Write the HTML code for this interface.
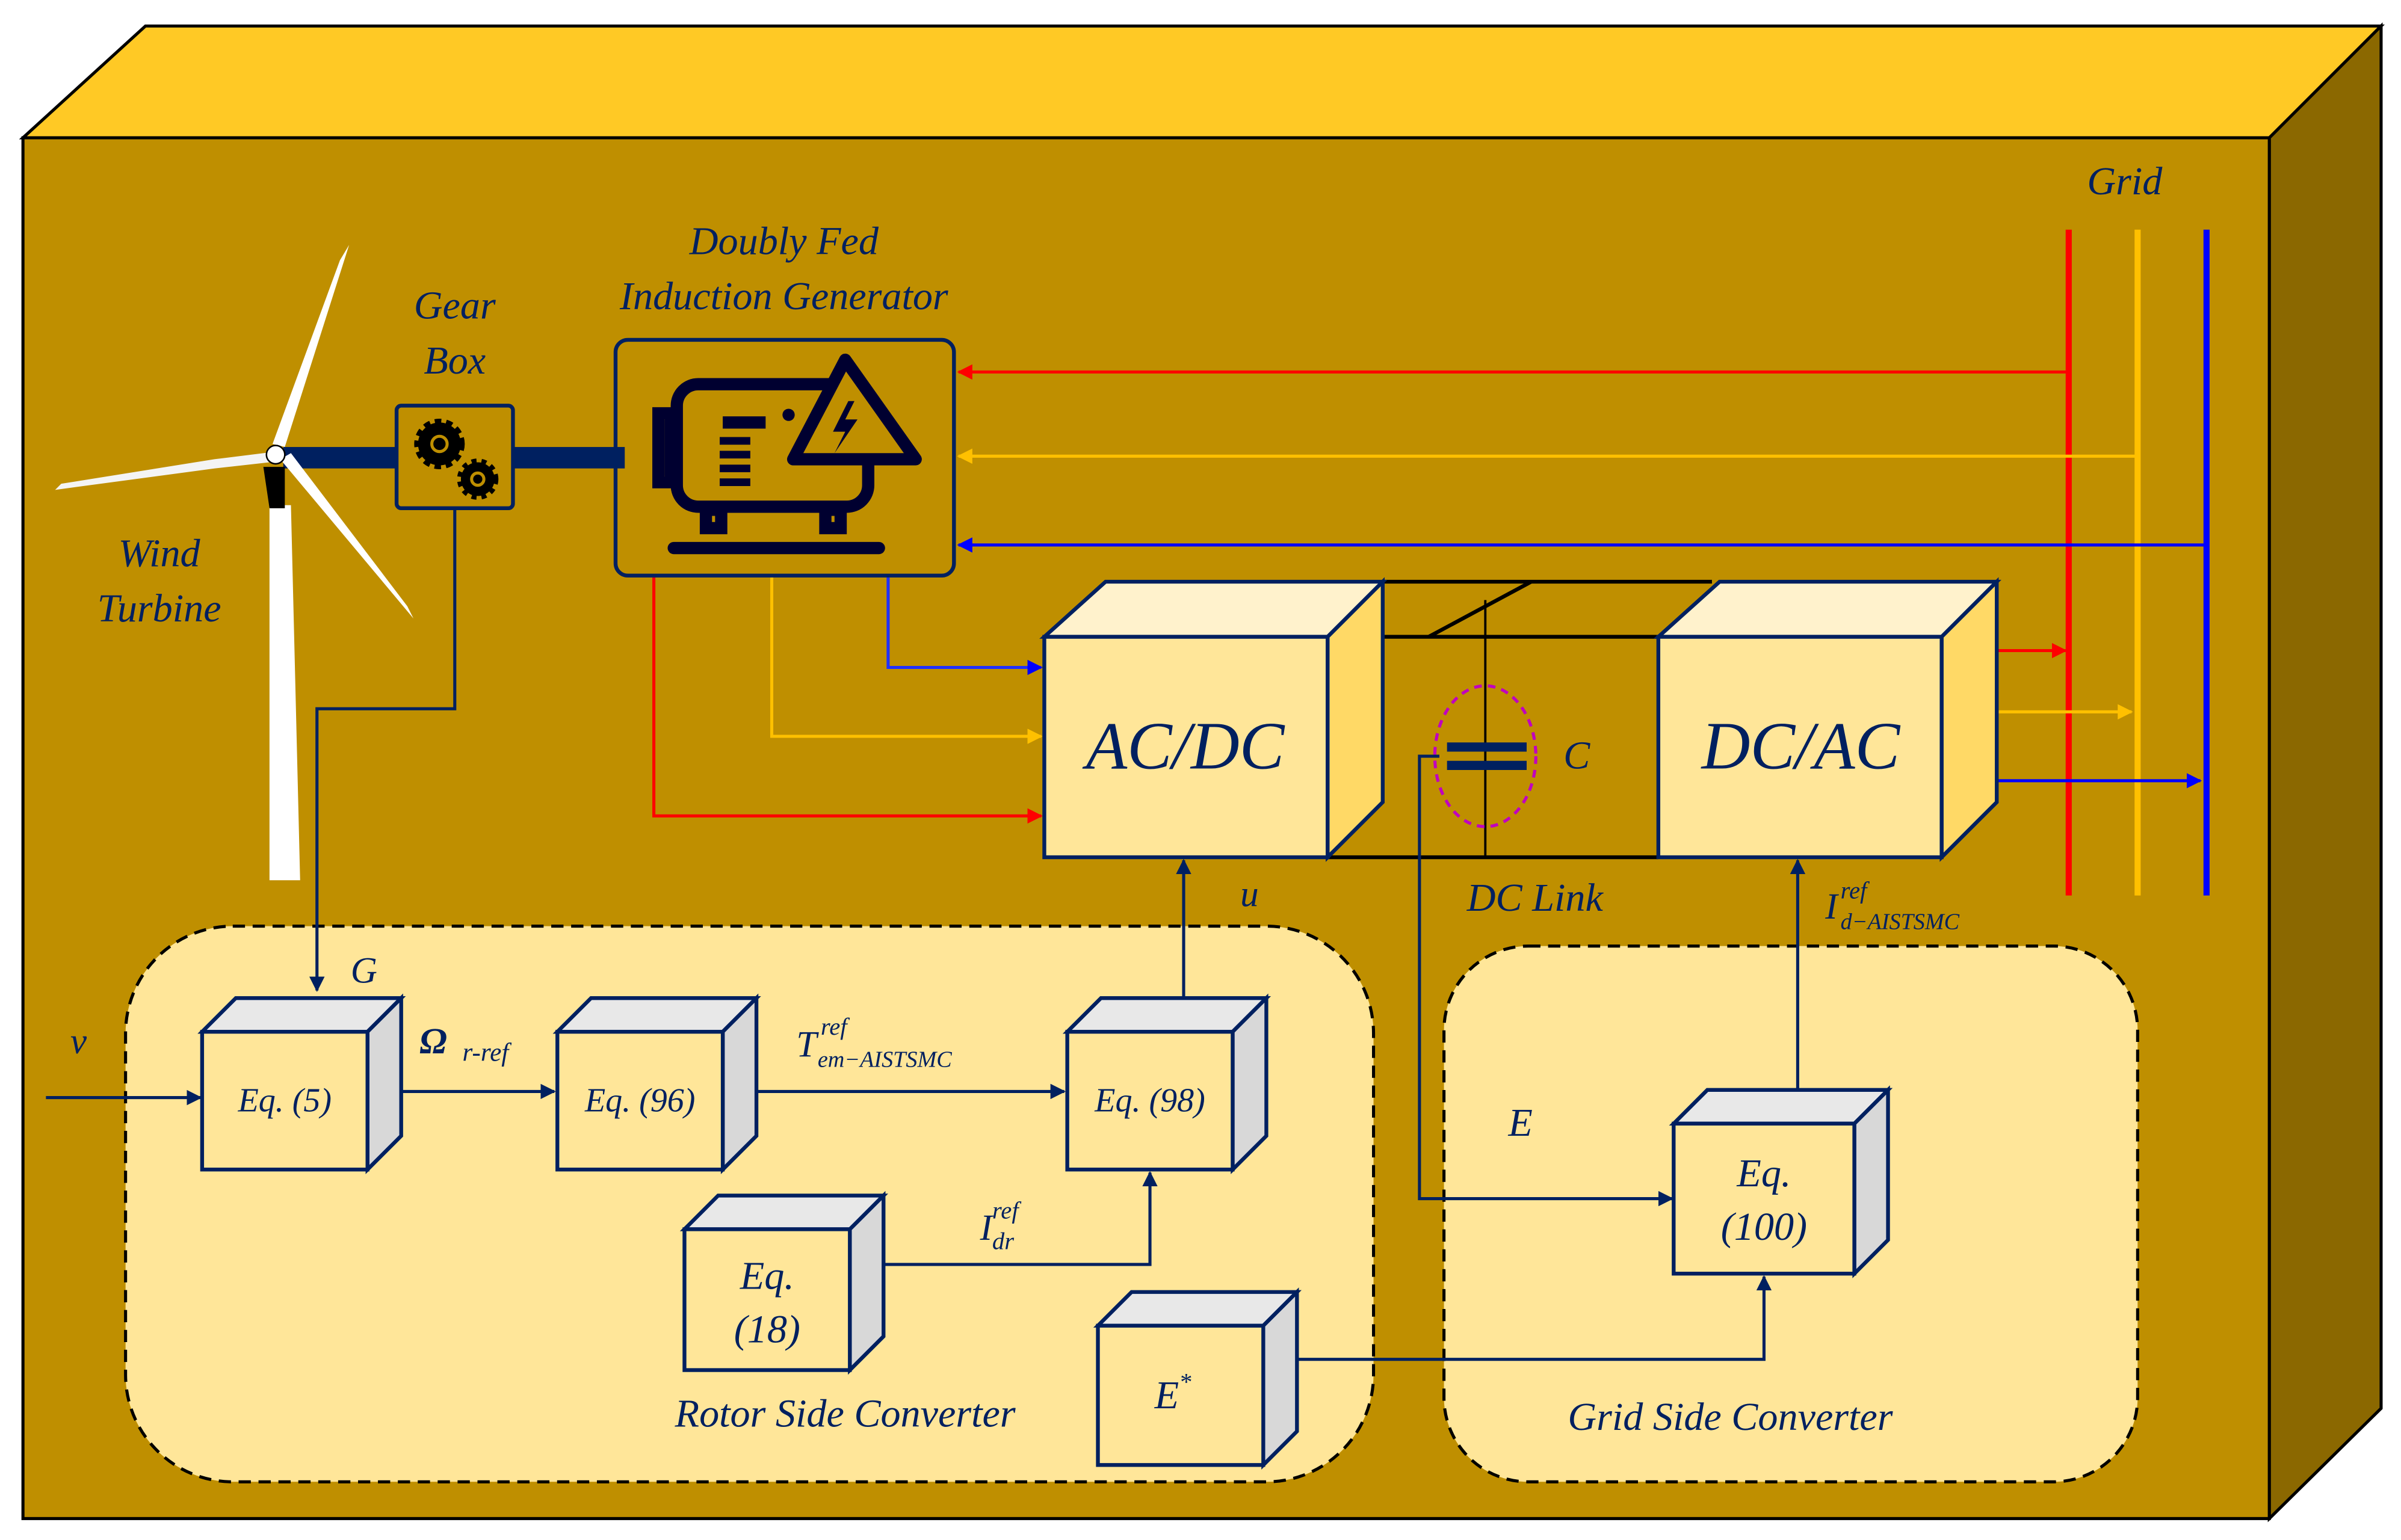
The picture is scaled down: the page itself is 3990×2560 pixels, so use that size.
<!DOCTYPE html>
<html><head><meta charset="utf-8"><style>html,body{margin:0;padding:0;background:#fff}svg{display:block}</style></head><body>
<svg width="3990" height="2560" viewBox="0 0 1568 1006" preserveAspectRatio="none" xmlns="http://www.w3.org/2000/svg" font-family="Liberation Serif, serif" font-style="italic" fill="#002060">
<defs>
<marker id="an" viewBox="0 0 10 10" refX="9" refY="5" markerWidth="5" markerHeight="5" orient="auto"><path d="M0,0L10,5L0,10z" fill="#002060"/></marker>
<marker id="ar" viewBox="0 0 10 10" refX="9" refY="5" markerWidth="5" markerHeight="5" orient="auto"><path d="M0,0L10,5L0,10z" fill="#f00"/></marker>
<marker id="ao" viewBox="0 0 10 10" refX="9" refY="5" markerWidth="5" markerHeight="5" orient="auto"><path d="M0,0L10,5L0,10z" fill="#FFC000"/></marker>
<marker id="ab" viewBox="0 0 10 10" refX="9" refY="5" markerWidth="5" markerHeight="5" orient="auto"><path d="M0,0L10,5L0,10z" fill="#0000ff"/></marker>
</defs>
<rect width="1568" height="1006" fill="#fff"/>
<polygon points="15,90 95,17 1555,17 1482,90" fill="#FFC925" stroke="#000" stroke-width="2"/>
<polygon points="1482,90 1555,17 1555,920 1482,992" fill="#8B6800" stroke="#000" stroke-width="2"/>
<rect x="15" y="90" width="1467" height="902" fill="#BF8F00" stroke="#000" stroke-width="2"/>

<!-- panels -->
<rect x="82" y="605" width="815" height="363" rx="70" fill="#FFE699" stroke="#000" stroke-width="2" stroke-dasharray="8,5"/>
<rect x="943" y="618" width="453" height="350" rx="55" fill="#FFE699" stroke="#000" stroke-width="2" stroke-dasharray="8,5"/>

<!-- grid -->
<g stroke-width="4" fill="none">
<line x1="1351" y1="150" x2="1351" y2="585" stroke="#f00"/>
<line x1="1396" y1="150" x2="1396" y2="585" stroke="#FFC000"/>
<line x1="1441" y1="150" x2="1441" y2="585" stroke="#0000ff"/>
</g>
<text x="1363" y="127" font-size="26">Grid</text>
<g stroke-width="2" fill="none">
<line x1="1351" y1="243" x2="626" y2="243" stroke="#f00" marker-end="url(#ar)"/>
<line x1="1396" y1="298" x2="626" y2="298" stroke="#FFC000" marker-end="url(#ao)"/>
<line x1="1441" y1="356" x2="626" y2="356" stroke="#0000ff" marker-end="url(#ab)"/>
<polyline points="427,376 427,533 680,533" stroke="#f00" marker-end="url(#ar)"/>
<polyline points="504,376 504,481 680,481" stroke="#FFC000" marker-end="url(#ao)"/>
<polyline points="580,376 580,436 680,436" stroke="#2030ff" marker-end="url(#ab)"/>
<line x1="1305" y1="425" x2="1349" y2="425" stroke="#f00" marker-end="url(#ar)"/>
<line x1="1305" y1="465" x2="1392" y2="465" stroke="#FFC000" marker-end="url(#ao)"/>
<line x1="1305" y1="510" x2="1437" y2="510" stroke="#0000ff" marker-end="url(#ab)"/>
</g>

<!-- DC link -->
<g stroke="#000" stroke-width="2.5" fill="none">
<line x1="903" y1="380" x2="1118" y2="380"/>
<line x1="867" y1="416" x2="1083" y2="416"/>
<line x1="867" y1="560" x2="1083" y2="560"/>
<line x1="1000" y1="380" x2="933" y2="416"/>
<line x1="970" y1="392" x2="970" y2="560" stroke-width="1.5"/>
</g>
<rect x="945" y="485" width="52" height="6" fill="#002060"/>
<rect x="945" y="497" width="52" height="6" fill="#002060"/>
<ellipse cx="970" cy="494" rx="33" ry="46" fill="none" stroke="#c000c0" stroke-width="2" stroke-dasharray="5,4"/>
<text x="1021" y="502" font-size="26">C</text>
<text x="958" y="595" font-size="26">DC Link</text>

<!-- converter boxes -->
<g stroke="#002060" stroke-width="2.5">
<polygon points="682,416 722,380 903,380 867,416" fill="#FFF2CC"/>
<polygon points="867,416 903,380 903,524 867,560" fill="#FFD966"/>
<rect x="682" y="416" width="185" height="144" fill="#FFE699"/>
<polygon points="1083,416 1123,380 1304,380 1268,416" fill="#FFF2CC"/>
<polygon points="1268,416 1304,380 1304,524 1268,560" fill="#FFD966"/>
<rect x="1083" y="416" width="185" height="144" fill="#FFE699"/>
</g>
<text x="774" y="502" font-size="44" text-anchor="middle">AC/DC</text>
<text x="1176" y="502" font-size="44" text-anchor="middle">DC/AC</text>

<!-- DFIG -->
<rect x="402" y="222" width="221" height="154" rx="8" fill="none" stroke="#002060" stroke-width="2.5"/>
<g fill="none" stroke="#000030" stroke-width="8">
<rect x="442" y="251" width="125" height="80" rx="14"/>
<line x1="472" y1="276" x2="500" y2="276"/>
<line x1="470" y1="288" x2="490" y2="288" stroke-width="5"/>
<line x1="470" y1="297" x2="490" y2="297" stroke-width="5"/>
<line x1="470" y1="306" x2="490" y2="306" stroke-width="5"/>
<line x1="470" y1="315" x2="490" y2="315" stroke-width="5"/>
<rect x="430" y="270" width="8" height="45"/>
<line x1="440" y1="358" x2="574" y2="358" stroke-linecap="round"/>
<rect x="461" y="333" width="10" height="12"/>
<rect x="539" y="333" width="10" height="12"/>
</g>
<polygon points="552,235 598,300 518,300" fill="#BF8F00" stroke="#000030" stroke-width="8" stroke-linejoin="round"/>
<path d="M554,262 L544,282 L552,282 L545,296 L560,274 L552,274 L558,262z" fill="#000030"/>
<circle cx="515" cy="271" r="4" fill="#000030"/>
<text x="512" y="166" font-size="26" text-anchor="middle">Doubly Fed</text>
<text x="512" y="202" font-size="26" text-anchor="middle">Induction Generator</text>

<!-- shafts and gearbox -->
<rect x="185" y="292" width="74" height="14" fill="#002060"/>
<rect x="335" y="292" width="73" height="14" fill="#002060"/>
<rect x="259" y="265" width="76" height="67" rx="3" fill="none" stroke="#002060" stroke-width="2.5"/>
<circle cx="287" cy="290" r="14" fill="#000" stroke="#000" stroke-width="5" stroke-dasharray="4,3"/>
<circle cx="287" cy="290" r="5" fill="none" stroke="#BF8F00" stroke-width="2"/>
<circle cx="312" cy="313" r="11" fill="#000" stroke="#000" stroke-width="5" stroke-dasharray="3,3"/>
<circle cx="312" cy="313" r="4" fill="none" stroke="#BF8F00" stroke-width="2"/>
<text x="297" y="208" font-size="26" text-anchor="middle">Gear</text>
<text x="297" y="244" font-size="26" text-anchor="middle">Box</text>

<!-- turbine -->
<polygon points="176,330 190,330 196,575 176,575" fill="#fff"/>
<polygon points="172,305 186,305 186,332 176,332" fill="#000"/>
<polygon points="178,290 222,170 228,160 186,292" fill="#fff"/>
<polygon points="180,295 140,300 40,316 36,320 140,306 176,302" fill="#f4f4f4"/>
<polygon points="183,300 270,404 266,396 190,296" fill="#fff"/>
<circle cx="180" cy="297" r="6" fill="#fff" stroke="#000" stroke-width="1"/>
<text x="104" y="370" font-size="26" text-anchor="middle">Wind</text>
<text x="104" y="406" font-size="26" text-anchor="middle">Turbine</text>

<!-- control line from gearbox -->
<polyline points="297,332 297,463 207,463 207,647" fill="none" stroke="#002060" stroke-width="2" marker-end="url(#an)"/>
<text x="229" y="642" font-size="24">G</text>

<!-- eq boxes -->
<g stroke="#002060" stroke-width="2.5">
<g id="b">
</g>
<polygon points="132,674 154,652 262,652 240,674" fill="#e8e8e8"/><polygon points="240,674 262,652 262,742 240,764" fill="#d8d8d8"/><rect x="132" y="674" width="108" height="90" fill="#FFE699"/>
<polygon points="364,674 386,652 494,652 472,674" fill="#e8e8e8"/><polygon points="472,674 494,652 494,742 472,764" fill="#d8d8d8"/><rect x="364" y="674" width="108" height="90" fill="#FFE699"/>
<polygon points="697,674 719,652 827,652 805,674" fill="#e8e8e8"/><polygon points="805,674 827,652 827,742 805,764" fill="#d8d8d8"/><rect x="697" y="674" width="108" height="90" fill="#FFE699"/>
<polygon points="447,803 469,781 577,781 555,803" fill="#e8e8e8"/><polygon points="555,803 577,781 577,873 555,895" fill="#d8d8d8"/><rect x="447" y="803" width="108" height="92" fill="#FFE699"/>
<polygon points="717,866 739,844 847,844 825,866" fill="#e8e8e8"/><polygon points="825,866 847,844 847,935 825,957" fill="#d8d8d8"/><rect x="717" y="866" width="108" height="91" fill="#FFE699"/>
<polygon points="1093,734 1115,712 1233,712 1211,734" fill="#e8e8e8"/><polygon points="1211,734 1233,712 1233,810 1211,832" fill="#d8d8d8"/><rect x="1093" y="734" width="118" height="98" fill="#FFE699"/>
</g>
<text x="186" y="726" font-size="22" text-anchor="middle">Eq. (5)</text>
<text x="418" y="726" font-size="22" text-anchor="middle">Eq. (96)</text>
<text x="751" y="726" font-size="22" text-anchor="middle">Eq. (98)</text>
<text x="501" y="842" font-size="26" text-anchor="middle">Eq.</text>
<text x="501" y="877" font-size="26" text-anchor="middle">(18)</text>
<text x="766" y="920" font-size="26" text-anchor="middle">E<tspan font-size="16" dy="-12">*</tspan></text>
<text x="1152" y="775" font-size="26" text-anchor="middle">Eq.</text>
<text x="1152" y="810" font-size="26" text-anchor="middle">(100)</text>

<!-- arrows -->
<g fill="none" stroke="#002060" stroke-width="2" marker-end="url(#an)">
<line x1="30" y1="717" x2="131" y2="717"/>
<line x1="262" y1="713" x2="362" y2="713"/>
<line x1="494" y1="713" x2="695" y2="713"/>
<polyline points="578,826 751,826 751,766"/>
<line x1="773" y1="652" x2="773" y2="562"/>
<polyline points="848,888 1152,888 1152,834"/>
<line x1="1174" y1="712" x2="1174" y2="562"/>
<polyline points="940,494 927,494 927,783 1092,783"/>
</g>

<!-- labels -->
<text x="46" y="688" font-size="24">v</text>
<text x="274" y="688" font-size="24" font-weight="bold">Ω</text><text x="302" y="693" font-size="17">r-ref</text>
<text x="520" y="690" font-size="24">T</text><text x="536" y="676" font-size="16">ref</text><text x="534" y="697" font-size="15">em−AISTSMC</text>
<text x="640" y="810" font-size="24">I</text><text x="648" y="796" font-size="16">ref</text><text x="648" y="816" font-size="16">dr</text>
<text x="810" y="592" font-size="24">u</text>
<text x="1192" y="600" font-size="24">I</text><text x="1202" y="587" font-size="16">ref</text><text x="1202" y="607" font-size="15">d−AISTSMC</text>
<text x="985" y="742" font-size="26">E</text>
<text x="552" y="932" font-size="26" text-anchor="middle">Rotor Side Converter</text>
<text x="1130" y="934" font-size="26" text-anchor="middle">Grid Side Converter</text>
</svg>
</body></html>
